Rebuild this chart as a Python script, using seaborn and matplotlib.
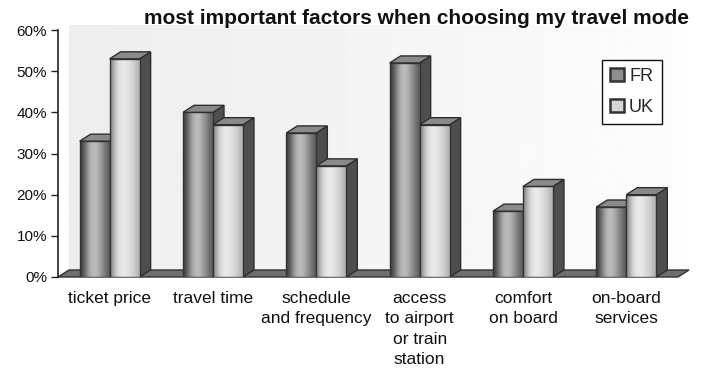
import numpy as np
import pandas as pd
import seaborn as sns
import matplotlib
matplotlib.use("Agg")
import matplotlib.pyplot as plt
from matplotlib.patches import Polygon, Patch

# Survey data: share of respondents naming each factor (%)
categories = ["ticket price", "travel time", "schedule\nand frequency",
              "access\nto airport\nor train\nstation", "comfort\non board",
              "on-board\nservices"]
countries = ["FR", "UK"]
fr_share = [33, 40, 35, 52, 16, 17]
uk_share = [53, 37, 27, 37, 22, 20]
y_ticks = [0, 10, 20, 30, 40, 50, 60]
title = "most important factors when choosing my travel mode"

df = pd.DataFrame({
    "factor": categories * 2,
    "country": ["FR"] * len(categories) + ["UK"] * len(categories),
    "share": fr_share + uk_share,
})

sns.set_theme(style="white")
plt.rcParams["font.family"] = ["Liberation Sans", "DejaVu Sans"]

W, H = 718, 369
fig = plt.figure(figsize=(W / 100, H / 100), dpi=100)
fig.patch.set_facecolor("white")
ax = fig.add_axes([58 / W, 1 - 277 / H, 620 / W, 247 / H])

face_base = {"FR": "#9a9a9a", "UK": "#d4d4d4"}
sns.barplot(data=df, x="factor", y="share", hue="country", hue_order=countries,
            palette=face_base, width=0.58, saturation=1, legend=False,
            edgecolor="#333333", linewidth=1.0, ax=ax, zorder=3)

ax.set_xlim(-0.5, len(categories) - 0.5)
ax.set_ylim(0, 60)
ax.set_facecolor("none")

# depth of the 3D extrusion, in pixels converted to data units
fig.canvas.draw()
bb = ax.get_window_extent()
dx = 11 / bb.width * (len(categories))
dy = 7 / bb.height * 60

x0, x1 = ax.get_xlim()
# back wall with a soft horizontal gradient
wall = np.linspace(0.93, 0.99, 256).reshape(1, -1)
ax.imshow(wall, cmap="gray", vmin=0, vmax=1, aspect="auto",
          extent=(x0 + dx, x1 + dx, dy, 60 + dy * 0.6), zorder=0, clip_on=False)
# floor
ax.add_patch(Polygon([(x0, 0), (x1, 0), (x1 + dx, dy), (x0 + dx, dy)],
                     closed=True, fc="#6e6e6e", ec="#333333", lw=1.0,
                     zorder=1, clip_on=False))

# cylindrical shading profiles for each series
shade = {
    "FR": [0.26, 0.42, 0.60, 0.72, 0.74, 0.68, 0.58, 0.48, 0.38],
    "UK": [0.55, 0.75, 0.87, 0.91, 0.91, 0.88, 0.84, 0.79, 0.70],
}

n = len(categories)
for i, bar in enumerate(ax.patches[: 2 * n]):
    series = countries[i // n]
    z = 2 if series == "FR" else 4
    bx, by = bar.get_x(), bar.get_y()
    bw, bh = bar.get_width(), bar.get_height()
    bar.set_zorder(z + 0.5)
    grad = np.array(shade[series]).reshape(1, -1)
    im = ax.imshow(grad, cmap="gray", vmin=0, vmax=1, aspect="auto",
                   interpolation="bicubic",
                   extent=(bx, bx + bw, by, by + bh), zorder=z + 0.4)
    im.set_clip_path(bar)
    bar.set_facecolor("none")
    # right side face
    ax.add_patch(Polygon([(bx + bw, 0), (bx + bw + dx, dy),
                          (bx + bw + dx, bh + dy), (bx + bw, bh)],
                         closed=True, fc="#4e4e4e", ec="#2e2e2e", lw=1.0,
                         zorder=z, clip_on=False))
    # top face
    ax.add_patch(Polygon([(bx, bh), (bx + bw, bh), (bx + bw + dx, bh + dy),
                          (bx + dx, bh + dy)],
                         closed=True, fc="#8a8a8a", ec="#2e2e2e", lw=1.0,
                         zorder=z + 0.6, clip_on=False))

ax.set_yticks(y_ticks)
ax.set_yticklabels([f"{t}%" for t in y_ticks])
ax.tick_params(axis="y", left=True, length=5, width=1, color="#222222",
               labelsize=11, pad=3, labelcolor="#111111")
ax.tick_params(axis="x", bottom=False, length=0, labelsize=12.5, pad=10,
               labelcolor="#111111")
for lbl in ax.get_xticklabels():
    lbl.set_linespacing(1.45)
    lbl.set_verticalalignment("top")
ax.set_xlabel("")
ax.set_ylabel("")
for side in ["top", "right", "bottom"]:
    ax.spines[side].set_visible(False)
ax.spines["left"].set_color("#222222")
ax.spines["left"].set_linewidth(1.2)
ax.spines["left"].set_zorder(6)

fig.text(416.5 / W, 1 - 18 / H, title, ha="center", va="center", fontsize=15,
         fontweight="bold", color="#111111")

handles = [Patch(fc="#8e8e8e", ec="#333333", lw=1.8, label="FR"),
           Patch(fc="#d6d6d6", ec="#333333", lw=1.8, label="UK")]
leg = fig.legend(handles=handles, loc="upper left",
                 bbox_to_anchor=(602 / W, 1 - 60 / H), fontsize=13,
                 frameon=True, fancybox=False, framealpha=1,
                 edgecolor="#111111", handlelength=0.75, handleheight=0.7,
                 handletextpad=0.3, labelspacing=0.75, borderpad=0.45,
                 borderaxespad=0)
leg.get_frame().set_linewidth(1.0)

fig.savefig("out.png", dpi=100, facecolor="white")
